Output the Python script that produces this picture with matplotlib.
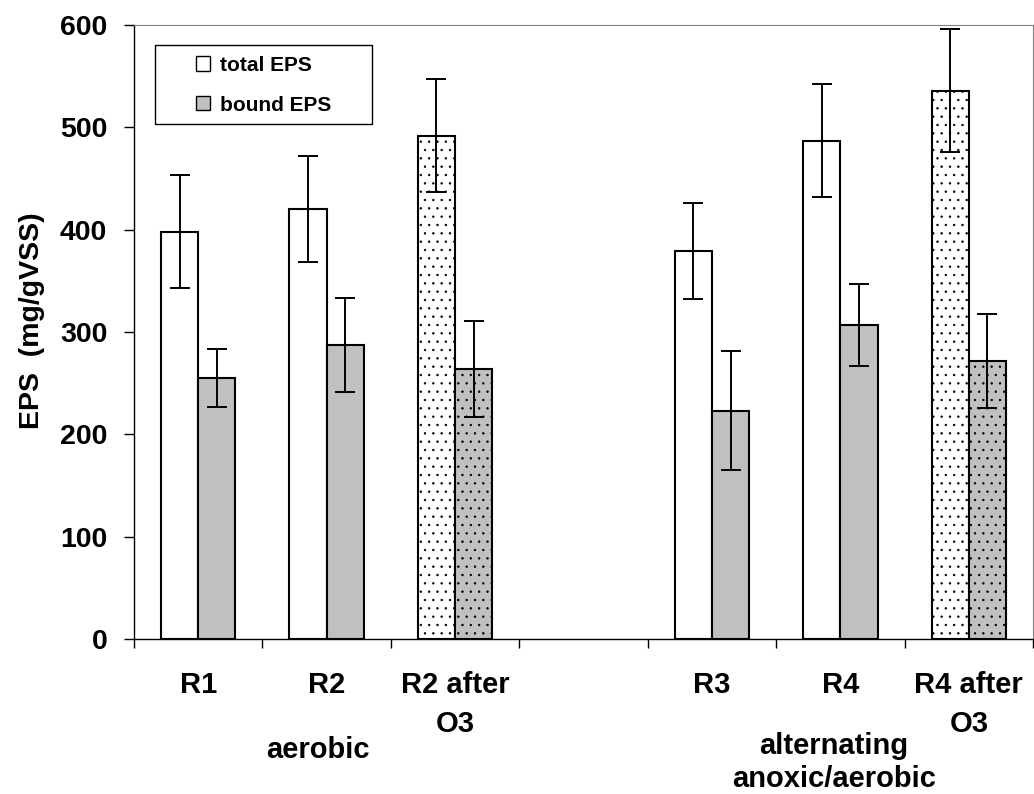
import numpy as np
import matplotlib.pyplot as plt
from matplotlib.patches import Rectangle

plt.rcParams['font.family'] = ['Liberation Sans', 'DejaVu Sans']
plt.rcParams['font.weight'] = 'bold'
plt.rcParams['hatch.linewidth'] = 0.5

# EPS (mg/gVSS), mean and error
categories = ['R1', 'R2', 'R2 after\nO3', '', 'R3', 'R4', 'R4 after\nO3']
total_eps = [398, 420, 492, np.nan, 379, 487, 536]
total_err = [55, 52, 55, np.nan, 47, 55, 60]
bound_eps = [255, 287, 264, np.nan, 223, 307, 272]
bound_err = [28, 46, 47, np.nan, 58, 40, 46]
after_o3 = [False, False, True, False, False, False, True]
group_labels = ['aerobic', 'alternating\nanoxic/aerobic']
group_at = [0.93, 4.95]

fs = 21
gray = '#c0c0c0'
x = np.arange(len(categories))
w = 0.29

fig = plt.figure(figsize=(10.34, 7.94), dpi=100)
ax = fig.add_axes([0.1296, 0.1952, 0.8694, 0.7733])

hatch = ['..' if a else None for a in after_o3]
ekw = dict(elinewidth=1.4, capthick=1.4, ecolor='black')
ax.bar(x - w / 2, total_eps, w, color='white', edgecolor='black', linewidth=1.5,
       hatch=hatch, yerr=total_err, capsize=7, error_kw=ekw)
ax.bar(x + w / 2, bound_eps, w, color=gray, edgecolor='black', linewidth=1.5,
       hatch=hatch, yerr=bound_err, capsize=7, error_kw=ekw)

ax.set_xlim(-0.5, len(categories) - 0.5)
ax.set_ylim(0, 600)
ax.set_yticks(np.arange(0, 601, 100))
ax.tick_params(axis='y', labelsize=20.5, length=7.2, width=1, pad=12)

ax.set_xticks(x)
ax.set_xticklabels(categories, fontsize=fs, linespacing=1.5, va='top')
ax.tick_params(axis='x', length=0, pad=23)
ax.set_xticks(np.arange(-0.5, len(categories)), minor=True)
ax.tick_params(axis='x', which='minor', length=6.5, width=1)

# operating mode under each reactor pair
for lab, g, yy in zip(group_labels, group_at, [-0.158, -0.151]):
    ax.text(g, yy, lab, transform=ax.get_xaxis_transform(),
            ha='center', va='top', fontsize=fs, linespacing=1.23)

ax.set_ylabel('EPS  (mg/gVSS)', fontsize=20.5, fontweight='bold')
ax.yaxis.set_label_coords(-0.099, 0.518)

for side in ['top', 'right']:
    ax.spines[side].set_color('#808080')
ax.spines['left'].set_linewidth(1)
ax.spines['bottom'].set_linewidth(1)

# legend box
ax.add_patch(Rectangle((0.0234, 0.838), 0.2414, 0.1287, transform=ax.transAxes,
                       fill=False, edgecolor='black', linewidth=1, zorder=5))
h1 = Rectangle((0, 0), 1, 1, facecolor='white', edgecolor='black', linewidth=1)
h2 = Rectangle((0, 0), 1, 1, facecolor=gray, edgecolor='black', linewidth=1)
ax.legend([h1, h2], ['total EPS', 'bound EPS'], loc='center',
          bbox_to_anchor=(0.0234 + 0.1207, 0.838 + 0.064), frameon=False,
          fontsize=15, handlelength=0.68, handleheight=0.68,
          handletextpad=0.45, labelspacing=1.0)

fig.savefig('out.png', dpi=100)
